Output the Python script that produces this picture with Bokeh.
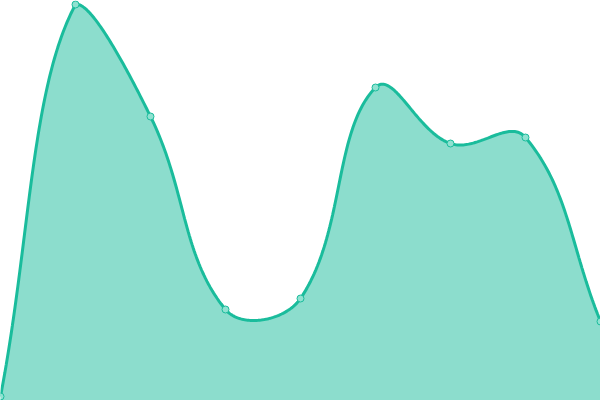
import numpy as np
from bokeh.plotting import figure
from bokeh.models import Range1d
from bokeh.embed import file_html
from bokeh.resources import INLINE

# ---- data ----
categories = ["1", "2", "3", "4", "5", "6", "7", "8", "9"]
values = [4, 396, 284, 91, 102, 313, 257, 263, 79]

Y_MAX = 400
W, H = 600, 400
TENSION = 0.4

LINE_COLOR = "#1abc9c"
AREA_COLOR = "#1abc9c"
POINT_FILL = "#90e2d1"

# ---- smooth spline (Chart.js-like cardinal spline, computed in screen space) ----
n = len(values)
xs = np.arange(n, dtype=float)
ys = np.array(values, dtype=float)
sx = W / (n - 1)
sy = H / Y_MAX
P = np.column_stack([xs * sx, ys * sy])

cp_prev = np.zeros_like(P)
cp_next = np.zeros_like(P)
for i in range(n):
    prev = P[max(i - 1, 0)]
    cur = P[i]
    nxt = P[min(i + 1, n - 1)]
    d01 = np.hypot(*(cur - prev))
    d12 = np.hypot(*(nxt - cur))
    tot = d01 + d12
    s01 = d01 / tot if tot else 0.0
    s12 = d12 / tot if tot else 0.0
    cp_prev[i] = cur - TENSION * s01 * (nxt - prev)
    cp_next[i] = cur + TENSION * s12 * (nxt - prev)

for cp in (cp_prev, cp_next):
    cp[:, 0] = np.clip(cp[:, 0], 0, W)
    cp[:, 1] = np.clip(cp[:, 1], 0, H)

t = np.linspace(0, 1, 60)[:, None]
segs = []
for i in range(n - 1):
    a, b, c, d = P[i], cp_next[i], cp_prev[i + 1], P[i + 1]
    pts = ((1 - t) ** 3) * a + 3 * ((1 - t) ** 2) * t * b + 3 * (1 - t) * (t ** 2) * c + (t ** 3) * d
    segs.append(pts if i == 0 else pts[1:])
curve = np.vstack(segs)
cx = curve[:, 0] / sx
cy = curve[:, 1] / sy

# ---- figure ----
p = figure(width=W, height=H, x_range=Range1d(0, n - 1), y_range=Range1d(0, Y_MAX),
           output_backend="svg", toolbar_location=None, min_border=0)
p.axis.visible = False
p.xgrid.visible = False
p.ygrid.visible = False
p.outline_line_color = None
p.background_fill_color = "white"
p.border_fill_color = "white"

p.varea(x=cx, y1=np.zeros_like(cy), y2=cy, fill_color=AREA_COLOR, fill_alpha=0.5)
p.line(cx, cy, line_color=LINE_COLOR, line_width=3)
p.scatter(xs, ys, marker="circle", size=7, fill_color=POINT_FILL,
          line_color=LINE_COLOR, line_width=1)

open("out.html", "w").write(file_html(p, INLINE))
